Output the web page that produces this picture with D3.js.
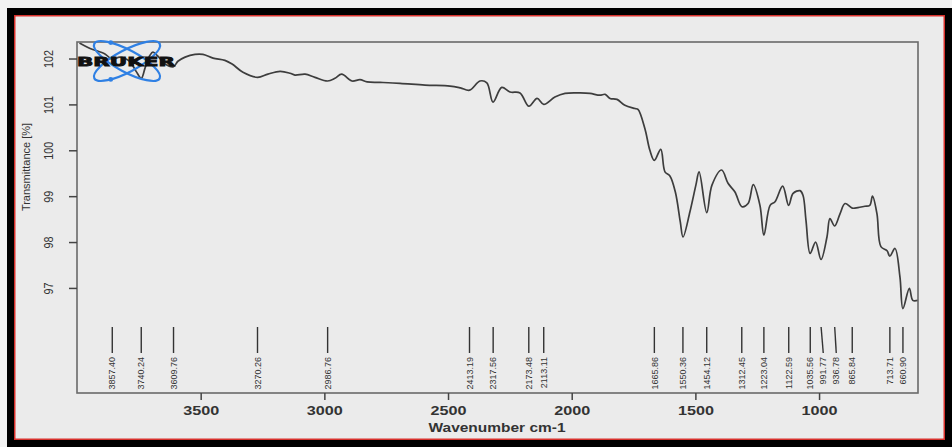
<!DOCTYPE html>
<html>
<head>
<meta charset="utf-8">
<script src="https://cdn.jsdelivr.net/npm/d3@7"></script>
<style>
  html, body { margin: 0; padding: 0; background: #f2f2f2; }
  svg { display: block; }
</style>
</head>
<body>
<script>
// IR spectrum: wavenumber (cm-1) and transmittance (%)
const wavenumber = [3990, 3947, 3887, 3857, 3826, 3786, 3761, 3740, 3725, 3705, 3693, 3673, 3644, 3610, 3592,
  3563, 3523, 3491, 3450, 3402, 3373, 3329, 3270, 3228, 3179, 3139, 3119, 3078, 3038, 2987, 2957, 2930, 2888,
  2856, 2827, 2775, 2694, 2593, 2492, 2450, 2413, 2371, 2343, 2318, 2283, 2249, 2209, 2173, 2140, 2113, 2068,
  2027, 1966, 1926, 1886, 1865, 1845, 1817, 1785, 1744, 1732, 1704, 1684, 1666, 1640, 1623, 1603, 1581, 1561,
  1550, 1522, 1498, 1485, 1454, 1433, 1394, 1368, 1340, 1312, 1287, 1266, 1239, 1223, 1198, 1178, 1147, 1123,
  1105, 1077, 1065, 1053, 1036, 1014, 992, 968, 956, 937, 915, 895, 866, 843, 815, 795, 784, 766, 750, 725,
  714, 693, 673, 661, 635, 621, 600];
const transmittance = [102.34, 102.22, 102.10, 101.98, 102.03, 101.93, 101.72, 101.57, 101.79, 102.07, 102.14,
  102.05, 101.88, 101.82, 101.94, 102.03, 102.09, 102.09, 102.01, 101.96, 101.88, 101.70, 101.59, 101.66, 101.72,
  101.68, 101.64, 101.66, 101.59, 101.51, 101.57, 101.66, 101.51, 101.54, 101.49, 101.48, 101.46, 101.42, 101.40,
  101.36, 101.31, 101.51, 101.47, 101.05, 101.37, 101.27, 101.25, 100.96, 101.13, 101.00, 101.16, 101.24, 101.25,
  101.24, 101.20, 101.22, 101.13, 101.11, 100.98, 100.91, 100.89, 100.47, 100.00, 99.78, 100.02, 99.53, 99.44,
  99.09, 98.44, 98.11, 98.66, 99.24, 99.53, 98.64, 99.24, 99.57, 99.28, 99.09, 98.77, 98.84, 99.25, 98.80, 98.15,
  98.80, 98.88, 99.22, 98.80, 99.06, 99.12, 99.02, 98.48, 97.75, 98.00, 97.62, 98.11, 98.51, 98.35, 98.62, 98.84,
  98.74, 98.75, 98.78, 98.80, 99.00, 98.62, 97.90, 97.81, 97.69, 97.86, 97.24, 96.55, 96.99, 96.73, 96.73];

// Labelled band positions
const peakLabels = ["3857.40", "3740.24", "3609.76", "3270.26", "2986.76", "2413.19", "2317.56", "2173.48",
  "2113.11", "1665.86", "1550.36", "1454.12", "1312.45", "1223.04", "1122.59", "1035.56", "991.77", "936.78",
  "865.84", "713.71", "660.90"];

const xTicks = [3500, 3000, 2500, 2000, 1500, 1000];
const yTicks = [97, 98, 99, 100, 101, 102];

const W = 952, H = 447;
const plot = { left: 77, right: 918, top: 42, bottom: 393 };

const svg = d3.select("body").append("svg").attr("width", W).attr("height", H);

// Frame: black border, thin red rule, grey panel
svg.append("rect").attr("x", 7).attr("y", 8).attr("width", W - 7).attr("height", H - 8).attr("fill", "#000");
svg.append("rect").attr("x", 14).attr("y", 15).attr("width", W - 7 - 14).attr("height", H - 7 - 15).attr("fill", "#d8312c");
svg.append("rect").attr("x", 15.5).attr("y", 16.5).attr("width", W - 7 - 17).attr("height", H - 7 - 18).attr("fill", "#ebebeb");

const x = d3.scaleLinear().domain([4000, 600]).range([plot.left, plot.right]);
const y = d3.scaleLinear().domain([94.71, 102.36]).range([plot.bottom, plot.top]);

// Spectrum trace
const pts = wavenumber.map((w, i) => [w, transmittance[i]]);
svg.append("clipPath").attr("id", "clip").append("rect")
  .attr("x", plot.left).attr("y", plot.top - 2)
  .attr("width", plot.right - plot.left).attr("height", plot.bottom - plot.top + 2);
svg.append("path")
  .datum(pts)
  .attr("clip-path", "url(#clip)")
  .attr("fill", "none")
  .attr("stroke", "#3d3d3d")
  .attr("stroke-width", 1.7)
  .attr("stroke-linejoin", "round")
  .attr("d", d3.line().x(d => x(d[0])).y(d => y(d[1])).curve(d3.curveCatmullRom.alpha(0.5)));

// Plot box
svg.append("rect")
  .attr("x", plot.left).attr("y", plot.top)
  .attr("width", plot.right - plot.left).attr("height", plot.bottom - plot.top)
  .attr("fill", "none").attr("stroke", "#6a6a6a").attr("stroke-width", 1.6);

// X axis
const xAxis = svg.append("g")
  .attr("transform", `translate(0,${plot.bottom})`)
  .call(d3.axisBottom(x).tickValues(xTicks).tickSize(7).tickPadding(6).tickFormat(d3.format("d")));
xAxis.select(".domain").remove();
xAxis.selectAll(".tick line").attr("stroke", "#444").attr("stroke-width", 1.5);
xAxis.selectAll(".tick text")
  .attr("fill", "#333")
  .attr("font-family", "Liberation Sans, Arial, sans-serif")
  .attr("font-weight", "bold")
  .attr("font-size", 13)
  .attr("textLength", 36)
  .attr("lengthAdjust", "spacingAndGlyphs");

// Y axis with rotated labels
const yAxis = svg.append("g")
  .attr("transform", `translate(${plot.left},0)`)
  .call(d3.axisLeft(y).tickValues(yTicks).tickSize(8).tickFormat(d3.format("d")));
yAxis.select(".domain").remove();
yAxis.selectAll(".tick line").attr("stroke", "#444").attr("stroke-width", 1.5);
yAxis.selectAll(".tick text")
  .attr("x", null).attr("dy", null)
  .attr("text-anchor", "middle")
  .attr("transform", "translate(-24,0) scale(1.15,1) rotate(-90)")
  .attr("fill", "#333")
  .attr("font-family", "Liberation Sans, Arial, sans-serif")
  .attr("font-size", 11)
  .attr("textLength", d => String(d).length * 6)
  .attr("lengthAdjust", "spacingAndGlyphs");

// Axis titles
svg.append("text")
  .attr("x", 497).attr("y", 432)
  .attr("text-anchor", "middle")
  .attr("font-family", "Liberation Sans, Arial, sans-serif")
  .attr("font-weight", "bold")
  .attr("font-size", 13)
  .attr("fill", "#333")
  .attr("textLength", 137)
  .attr("lengthAdjust", "spacingAndGlyphs")
  .text("Wavenumber cm-1");

svg.append("text")
  .attr("transform", "translate(30,167) rotate(-90)")
  .attr("text-anchor", "middle")
  .attr("font-family", "Liberation Sans, Arial, sans-serif")
  .attr("font-size", 11)
  .attr("fill", "#333")
  .text("Transmittance [%]");

// Band markers: labels nudged apart where bands crowd together
const peaks = peakLabels.map(s => ({ label: s, px: x(+s) })).sort((a, b) => a.px - b.px);
const minSep = 13;
peaks.forEach((p, i) => {
  p.lx = p.px;
  if (i > 0 && p.lx - peaks[i - 1].lx < minSep) p.lx = peaks[i - 1].lx + minSep;
});
const markTop = 327, markBottom = 353, labelTop = 357;
const pk = svg.append("g");
pk.selectAll("line").data(peaks).join("line")
  .attr("x1", d => d.px).attr("x2", d => d.lx)
  .attr("y1", markTop).attr("y2", markBottom)
  .attr("stroke", "#333").attr("stroke-width", 1.4);
pk.selectAll("text").data(peaks).join("text")
  .attr("transform", d => `translate(${d.lx},${labelTop}) rotate(-90)`)
  .attr("dy", "0.35em")
  .attr("text-anchor", "end")
  .attr("font-family", "Liberation Sans, Arial, sans-serif")
  .attr("font-size", 9)
  .attr("fill", "#333")
  .text(d => d.label);

// Instrument logo
const logo = svg.append("g").attr("transform", "translate(127,61)");
[28, -28].forEach(a => {
  logo.append("ellipse").attr("rx", 37).attr("ry", 11)
    .attr("transform", `rotate(${a})`)
    .attr("fill", "none").attr("stroke", "#2f80e4").attr("stroke-width", 2.2);
  const t = a > 0 ? Math.PI + 0.9 : Math.PI - 0.9;
  const lx = 37 * Math.cos(t), ly = 11 * Math.sin(t), r = a * Math.PI / 180;
  logo.append("circle")
    .attr("cx", lx * Math.cos(r) - ly * Math.sin(r))
    .attr("cy", lx * Math.sin(r) + ly * Math.cos(r))
    .attr("r", 2.4).attr("fill", "#2f80e4");
});
svg.append("text")
  .attr("x", 77).attr("y", 66)
  .attr("font-family", "DejaVu Sans, sans-serif")
  .attr("font-weight", "bold")
  .attr("font-size", 13)
  .attr("fill", "#111").attr("stroke", "#111").attr("stroke-width", 0.9)
  .attr("textLength", 98)
  .attr("lengthAdjust", "spacingAndGlyphs")
  .text("BRUKER");
</script>
</body>
</html>
